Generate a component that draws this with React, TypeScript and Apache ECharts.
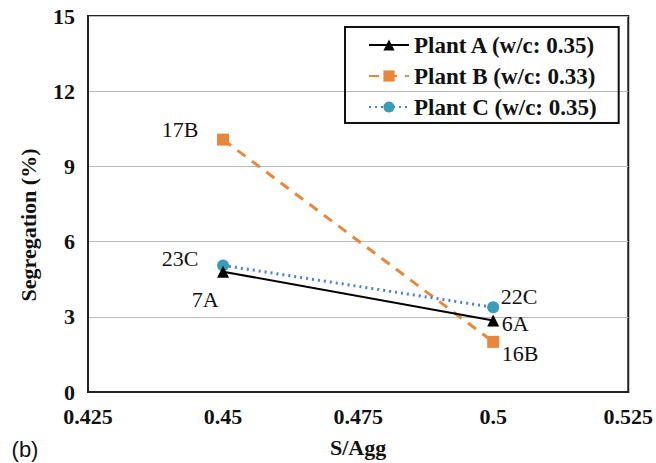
import React, { useEffect, useRef } from "react";
import * as echarts from "echarts";

const xValues = [0.45, 0.5];
const plantA = [4.8, 2.85];
const plantB = [10.07, 2.0];
const plantC = [5.05, 3.38];
const labelsA = ["7A", "6A"];
const labelsB = ["17B", "16B"];
const labelsC = ["23C", "22C"];
const seriesNames = ["Plant A (w/c: 0.35)", "Plant B (w/c: 0.33)", "Plant C (w/c: 0.35)"];
const yTitle = "Segregation (%)";
const xTitle = "S/Agg";

const SERIF = "Liberation Serif";
const FS = 22;

function mk(values: number[], labels: string[], offsets: number[][]) {
  return values.map((v, i) => ({
    value: [xValues[i], v],
    label: {
      show: true,
      formatter: labels[i],
      position: "inside",
      offset: offsets[i],
      color: "#111",
      fontFamily: SERIF,
      fontSize: FS,
    },
  }));
}

export default function App() {
  const ref = useRef<HTMLDivElement>(null);
  useEffect(() => {
    const chart = echarts.init(ref.current!, null, { renderer: "svg" });
    chart.setOption({
      animation: false,
      backgroundColor: "#fff",
      grid: {
        left: 88,
        right: 27,
        top: 16,
        bottom: 70,
        show: true,
        borderColor: "#222",
        borderWidth: 2,
      },
      legend: {
        orient: "vertical",
        left: 345,
        top: 27,
        padding: [6, 22, 4, 23],
        itemGap: 7,
        itemWidth: 40,
        itemHeight: 14,
        borderColor: "#111",
        borderWidth: 2,
        borderRadius: 0,
        textStyle: {
          fontFamily: SERIF,
          fontWeight: "bold",
          fontSize: 23,
          color: "#111",
          lineHeight: 24,
        },
        data: seriesNames,
      },
      xAxis: {
        type: "value",
        min: 0.425,
        max: 0.525,
        interval: 0.025,
        name: xTitle,
        nameLocation: "middle",
        nameGap: 44,
        nameTextStyle: { fontFamily: SERIF, fontWeight: "bold", fontSize: FS, color: "#111" },
        axisLine: { show: true, lineStyle: { color: "#222", width: 2 } },
        axisTick: { show: false },
        splitLine: { show: false },
        axisLabel: {
          margin: 13,
          fontFamily: SERIF,
          fontWeight: "bold",
          fontSize: FS,
          color: "#111",
          formatter: (v: number) => String(+v.toFixed(3)),
        },
      },
      yAxis: {
        type: "value",
        min: 0,
        max: 15,
        interval: 3,
        axisLine: { show: true, lineStyle: { color: "#222", width: 2 } },
        axisTick: { show: false },
        splitLine: { show: true, lineStyle: { color: "#bbb", width: 1 } },
        axisLabel: {
          margin: 13,
          fontFamily: SERIF,
          fontWeight: "bold",
          fontSize: FS,
          color: "#111",
        },
      },
      series: [
        {
          name: seriesNames[1],
          type: "line",
          symbol: "rect",
          symbolSize: 12,
          itemStyle: { color: "#E8873A" },
          lineStyle: { color: "#E8873A", width: 3, type: [10, 8] },
          data: mk(plantB, labelsB, [[-43, -10], [27, 12]]),
          z: 2,
        },
        {
          name: seriesNames[2],
          type: "line",
          symbol: "circle",
          symbolSize: 12,
          itemStyle: { color: "#3A9DB8" },
          lineStyle: { color: "#4A80D0", width: 3, type: [2, 4] },
          data: mk(plantC, labelsC, [[-43, -7], [26, -11]]),
          z: 3,
        },
        {
          name: seriesNames[0],
          type: "line",
          symbol: "triangle",
          symbolSize: 12,
          itemStyle: { color: "#000" },
          lineStyle: { color: "#000", width: 2 },
          data: mk(plantA, labelsA, [[-18, 28], [22, 3]]),
          z: 4,
        },
      ],
      graphic: [
        {
          type: "text",
          x: 28,
          y: 225,
          rotation: Math.PI / 2,
          style: {
            text: yTitle,
            fontFamily: SERIF,
            fontWeight: "bold",
            fontSize: FS,
            fill: "#111",
            align: "center",
            verticalAlign: "middle",
          },
        },
        {
          type: "text",
          x: 25,
          y: 449,
          style: {
            text: "(b)",
            fontFamily: "Liberation Sans",
            fontSize: 22,
            fill: "#111",
            align: "center",
            verticalAlign: "middle",
          },
        },
      ],
    });
    return () => chart.dispose();
  }, []);
  return <div ref={ref} style={{ width: 656, height: 463, position: "absolute", left: 0, top: 0 }} />;
}
